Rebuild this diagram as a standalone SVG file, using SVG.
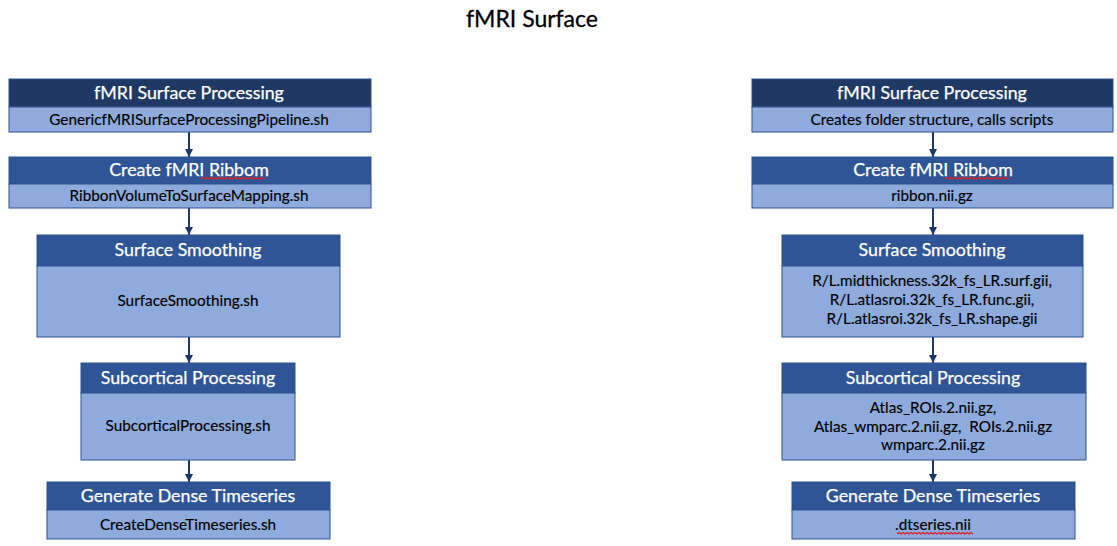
<svg xmlns="http://www.w3.org/2000/svg" width="1117" height="546" viewBox="0 0 1117 546">
<defs>
<marker id="ah" viewBox="0 0 10 10" refX="10" refY="5" markerWidth="4" markerHeight="4" orient="auto" markerUnits="strokeWidth">
<path d="M0,0 L10,5 L0,10 z" fill="#203864"/>
</marker>
<style>
.hd{fill:#2f5597;stroke:#2f528f;stroke-width:1}
.hd0{fill:#203864;stroke:#2f528f;stroke-width:1}
.bd{fill:#8faadc;stroke:#2f528f;stroke-width:1}
.ht{font-family:Lato,"Open Sans",sans-serif;font-size:17.8px;fill:#ffffff;text-anchor:middle;stroke:#ffffff;stroke-width:0.25}
.bt{font-family:Lato,"Open Sans",sans-serif;font-size:15.3px;fill:#000000;text-anchor:middle;stroke:#000000;stroke-width:0.15}
.ttl{font-family:Lato,"Open Sans",sans-serif;font-size:23px;fill:#000000;text-anchor:middle;stroke:#000000;stroke-width:0.3}
.cn{stroke:#203864;stroke-width:2;fill:none;marker-end:url(#ah)}
.sq{stroke:#e02020;stroke-width:1.2;fill:none}
</style>
</defs>
<rect width="1117" height="546" fill="#ffffff"/>
<text class="ttl" x="532" y="27">fMRI Surface</text>

<g id="connectors">
<line class="cn" x1="189" y1="132" x2="189" y2="157"/>
<line class="cn" x1="189" y1="208" x2="189" y2="235"/>
<line class="cn" x1="189" y1="337" x2="189" y2="363"/>
<line class="cn" x1="189" y1="460" x2="189" y2="482"/>
<line class="cn" x1="933" y1="132" x2="933" y2="157"/>
<line class="cn" x1="933" y1="208" x2="933" y2="235"/>
<line class="cn" x1="933" y1="337" x2="933" y2="363"/>
<line class="cn" x1="933" y1="460" x2="933" y2="482"/>
</g>

<g id="L1">
<rect class="hd0" x="9" y="79" width="362" height="28"/>
<rect class="bd" x="9" y="107" width="362" height="25"/>
<text class="ht" x="189" y="99">fMRI Surface Processing</text>
<text class="bt" x="189" y="125">GenericfMRISurfaceProcessingPipeline.sh</text>
</g>
<g id="L2">
<rect class="hd" x="9" y="157" width="362" height="27"/>
<rect class="bd" x="9" y="184" width="362" height="24"/>
<text class="ht" x="189" y="176">Create fMRI Ribbom</text>
<path class="sq" d="M201,179 l2,-1.5 l2,1.5 l2,-1.5 l2,1.5 l2,-1.5 l2,1.5 l2,-1.5 l2,1.5 l2,-1.5 l2,1.5 l2,-1.5 l2,1.5 l2,-1.5 l2,1.5 l2,-1.5 l2,1.5 l2,-1.5 l2,1.5 l2,-1.5 l2,1.5 l2,-1.5 l2,1.5 l2,-1.5 l2,1.5 l2,-1.5 l2,1.5 l2,-1.5 l2,1.5 l2,-1.5 l2,1.5 l2,-1.5 l2,1.5"/>
<text class="bt" x="189" y="201">RibbonVolumeToSurfaceMapping.sh</text>
</g>
<g id="L3">
<rect class="hd" x="37" y="235" width="303" height="31"/>
<rect class="bd" x="37" y="266" width="303" height="71"/>
<text class="ht" x="188" y="256">Surface Smoothing</text>
<text class="bt" x="188" y="306">SurfaceSmoothing.sh</text>
</g>
<g id="L4">
<rect class="hd" x="81" y="363" width="214" height="30"/>
<rect class="bd" x="81" y="393" width="214" height="67"/>
<text class="ht" x="188" y="384">Subcortical Processing</text>
<text class="bt" x="188" y="431">SubcorticalProcessing.sh</text>
</g>
<g id="L5">
<rect class="hd" x="47" y="482" width="283" height="28"/>
<rect class="bd" x="47" y="510" width="283" height="29"/>
<text class="ht" x="188" y="502">Generate Dense Timeseries</text>
<text class="bt" x="188" y="530">CreateDenseTimeseries.sh</text>
</g>

<g id="R1">
<rect class="hd0" x="752" y="79" width="361" height="28"/>
<rect class="bd" x="752" y="107" width="361" height="25"/>
<text class="ht" x="932" y="99">fMRI Surface Processing</text>
<text class="bt" x="932" y="125">Creates folder structure, calls scripts</text>
</g>
<g id="R2">
<rect class="hd" x="752" y="157" width="361" height="27"/>
<rect class="bd" x="752" y="184" width="361" height="24"/>
<text class="ht" x="933" y="176">Create fMRI Ribbom</text>
<path class="sq" d="M945,179 l2,-1.5 l2,1.5 l2,-1.5 l2,1.5 l2,-1.5 l2,1.5 l2,-1.5 l2,1.5 l2,-1.5 l2,1.5 l2,-1.5 l2,1.5 l2,-1.5 l2,1.5 l2,-1.5 l2,1.5 l2,-1.5 l2,1.5 l2,-1.5 l2,1.5 l2,-1.5 l2,1.5 l2,-1.5 l2,1.5 l2,-1.5 l2,1.5 l2,-1.5 l2,1.5 l2,-1.5 l2,1.5 l2,-1.5 l2,1.5"/>
<text class="bt" x="932" y="201">ribbon.nii.gz</text>
</g>
<g id="R3">
<rect class="hd" x="782" y="235" width="301" height="31"/>
<rect class="bd" x="782" y="266" width="301" height="71"/>
<text class="ht" x="932" y="256">Surface Smoothing</text>
<text class="bt" x="932" y="286">R/L.midthickness.32k_fs_LR.surf.gii,</text>
<text class="bt" x="932" y="305">R/L.atlasroi.32k_fs_LR.func.gii,</text>
<text class="bt" x="932" y="324">R/L.atlasroi.32k_fs_LR.shape.gii</text>
</g>
<g id="R4">
<rect class="hd" x="782" y="363" width="304" height="30"/>
<rect class="bd" x="782" y="393" width="304" height="67"/>
<text class="ht" x="933" y="384">Subcortical Processing</text>
<text class="bt" x="933" y="413">Atlas_ROIs.2.nii.gz,</text>
<text class="bt" x="933" y="432">Atlas_wmparc.2.nii.gz,&#160; ROIs.2.nii.gz</text>
<text class="bt" x="933" y="450">wmparc.2.nii.gz</text>
</g>
<g id="R5">
<rect class="hd" x="792" y="482" width="283" height="28"/>
<rect class="bd" x="792" y="510" width="283" height="29"/>
<text class="ht" x="933" y="502">Generate Dense Timeseries</text>
<text class="bt" x="933" y="530">.dtseries.nii</text>
<path class="sq" d="M897,534 l2,-1.5 l2,1.5 l2,-1.5 l2,1.5 l2,-1.5 l2,1.5 l2,-1.5 l2,1.5 l2,-1.5 l2,1.5 l2,-1.5 l2,1.5 l2,-1.5 l2,1.5 l2,-1.5 l2,1.5 l2,-1.5 l2,1.5 l2,-1.5 l2,1.5 l2,-1.5 l2,1.5 l2,-1.5 l2,1.5 l2,-1.5 l2,1.5 l2,-1.5 l2,1.5 l2,-1.5 l2,1.5 l2,-1.5 l2,1.5 l2,-1.5 l2,1.5 l2,-1.5 l2,1.5 l2,-1.5 l2,1.5"/>
</g>
</svg>
